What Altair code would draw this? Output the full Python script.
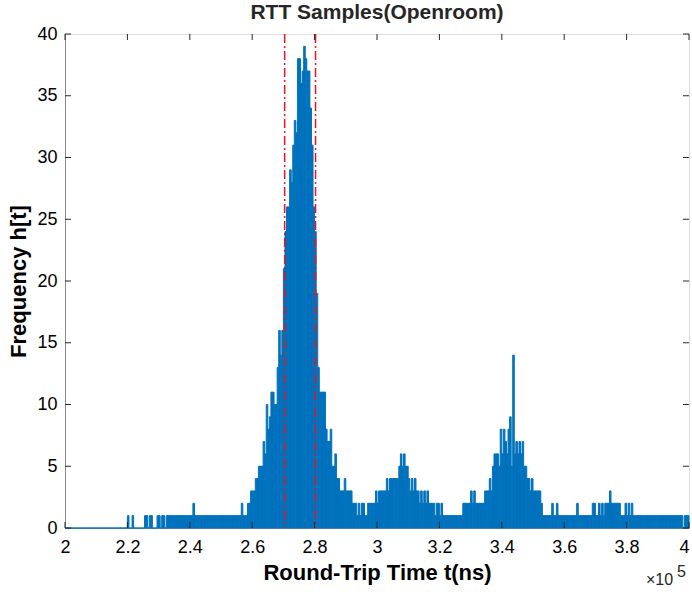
import altair as alt
import pandas as pd

# Histogram counts, bins of 500 ns starting at 200000 ns, grouped per 10000 ns
counts_200 = [0,0,0,0,0,0,0,0,0,0,0,0,0,0,0,0,0,0,0,0]
counts_210 = [0,0,0,0,0,0,0,0,0,0,0,0,0,0,0,0,0,0,0,0]
counts_220 = [1,0,0,1,0,0,0,0,0,0,0,1,1,0,1,1,0,0,0,1]
counts_230 = [1,0,1,1,0,1,1,1,1,1,1,1,1,1,1,1,1,1,1,1]
counts_240 = [1,1,2,1,1,1,1,1,1,1,1,1,1,1,1,1,1,1,1,1]
counts_250 = [1,1,1,1,1,1,1,1,1,1,1,1,1,2,1,1,1,2,2,3]
counts_260 = [3,3,4,4,5,5,5,7,6,10,8,9,11,11,10,10,13,16,14,16]
counts_270 = [21,24,26,26,29,28,31,33,32,38,38,36,37,39,38,37,37,34,31,26]
counts_280 = [24,19,13,11,11,11,11,8,7,7,8,5,5,6,4,4,3,3,3,4]
counts_290 = [3,3,3,3,2,2,2,1,2,1,2,2,1,1,2,2,2,2,2,3]
counts_300 = [2,3,3,3,3,3,4,3,4,4,4,4,4,4,5,6,5,6,5,5]
counts_310 = [4,3,4,3,4,3,3,2,3,2,3,2,3,2,2,2,2,1,2,2]
counts_320 = [1,2,1,1,1,1,1,1,1,1,1,1,1,1,1,2,2,2,2,2]
counts_330 = [3,2,3,2,2,2,2,2,2,3,3,3,4,3,5,6,6,6,5,8]
counts_340 = [6,8,7,6,8,9,5,14,6,7,6,7,6,7,5,5,4,4,3,4]
counts_350 = [3,3,3,3,3,2,1,1,1,1,1,1,2,1,1,2,1,1,1,1]
counts_360 = [1,1,1,1,1,1,1,1,2,1,1,1,1,1,1,1,1,1,2,2]
counts_370 = [1,1,2,1,2,1,2,2,2,3,2,2,2,2,2,2,1,1,1,2]
counts_380 = [1,2,1,2,1,1,1,1,1,1,1,1,1,1,1,1,1,1,1,1]
counts_390 = [1,1,1,1,1,1,1,1,1,1,1,1,1,1,1,1,0,1,1,1]

bin_start = 200000
bin_width = 500

x_tick_values = [200000, 220000, 240000, 260000, 280000, 300000,
                 320000, 340000, 360000, 380000, 400000]
y_tick_values = [0, 5, 10, 15, 20, 25, 30, 35, 40]
red_lines = [270400, 280300]

all_counts = (counts_200 + counts_210 + counts_220 + counts_230 + counts_240 +
              counts_250 + counts_260 + counts_270 + counts_280 + counts_290 +
              counts_300 + counts_310 + counts_320 + counts_330 + counts_340 +
              counts_350 + counts_360 + counts_370 + counts_380 + counts_390)

hist = pd.DataFrame({
    "start": [bin_start + i * bin_width for i in range(len(all_counts))],
    "count": all_counts,
})
hist["end"] = hist["start"] + bin_width

BLUE = "#0072BD"
TXT = "#262626"
FONT = "Liberation Sans"

xs = alt.Scale(domain=[200000, 400000], nice=False, zero=False)
ys = alt.Scale(domain=[0, 40], nice=False)

bars = alt.Chart(hist).mark_rect(color=BLUE, stroke=BLUE, strokeWidth=1).encode(
    x=alt.X("start:Q", scale=xs,
            axis=alt.Axis(values=x_tick_values, labelExpr="format(datum.value/100000, '~g')",
                          title="Round-Trip Time t(ns)", grid=False, ticks=False, tickSize=0,
                          labelFlush=False, labelOverlap=False,
                          labelAlign={"condition": {"test": "datum.value >= 400000", "value": "right"},
                                      "value": "center"},
                          labelPadding=10, titlePadding=6, labelFontSize=18,
                          titleFontSize=22, titleFontWeight="bold")),
    x2="end:Q",
    y=alt.Y("count:Q", scale=ys,
            axis=alt.Axis(values=y_tick_values, title="Frequency h[t]", grid=False,
                          ticks=False, tickSize=0, labelPadding=8, titlePadding=6,
                          labelFlush=False, labelOverlap=False,
                          labelFontSize=18, titleFontSize=22, titleFontWeight="bold")),
    y2=alt.datum(0),
)

vl = alt.Chart(pd.DataFrame({"v": red_lines})).mark_rule(
    color="#E8141E", strokeWidth=1.5, strokeDash=[9, 3, 2, 3]
).encode(x=alt.X("v:Q", scale=xs))

xt = pd.DataFrame({"v": x_tick_values})
yt = pd.DataFrame({"v": y_tick_values})
tick_col = TXT
bt = alt.Chart(xt).mark_rule(color=tick_col).encode(
    x=alt.X("v:Q", scale=xs), y=alt.value(494), y2=alt.value(488))
tt = alt.Chart(xt).mark_rule(color=tick_col).encode(
    x=alt.X("v:Q", scale=xs), y=alt.value(0), y2=alt.value(6))
lt = alt.Chart(yt).mark_rule(color=tick_col).encode(
    y=alt.Y("v:Q", scale=ys), x=alt.value(0), x2=alt.value(6))
rt = alt.Chart(yt).mark_rule(color=tick_col).encode(
    y=alt.Y("v:Q", scale=ys), x=alt.value(624), x2=alt.value(618))

exp_txt = alt.Chart(pd.DataFrame({"t": ["×10"]})).mark_text(
    align="left", baseline="alphabetic", fontSize=16, font=FONT, color=TXT
).encode(text="t:N", x=alt.value(581), y=alt.value(551))
exp_sup = alt.Chart(pd.DataFrame({"t": ["5"]})).mark_text(
    align="left", baseline="alphabetic", fontSize=16, font=FONT, color=TXT
).encode(text="t:N", x=alt.value(612), y=alt.value(543))

chart = alt.layer(bars, vl, bt, tt, lt, rt, exp_txt, exp_sup).properties(
    width=624, height=494,
    title=alt.TitleParams("RTT Samples(Openroom)", fontSize=21, fontWeight="bold",
                          font=FONT, color=TXT, anchor="middle", frame="group",
                          offset=2),
    autosize=alt.AutoSizeParams(type="none"),
    padding={"left": 65, "top": 34, "right": 3, "bottom": 64},
).configure_view(stroke=TXT, strokeWidth=1).configure_axis(
    labelFont=FONT, titleFont=FONT, labelColor=TXT, titleColor=TXT,
    domainColor=TXT, domainWidth=1
).configure(background="white")

chart.save("out.html", embed_options={"renderer": "svg", "actions": False})
